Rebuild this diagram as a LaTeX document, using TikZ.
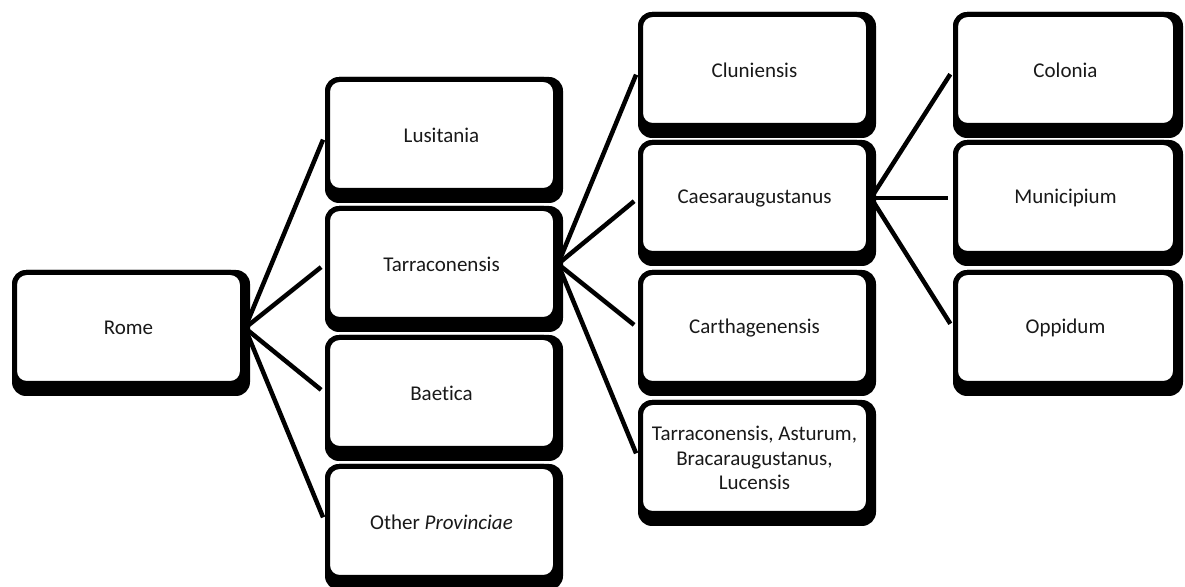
\documentclass[tikz,border=0pt]{standalone}
\usepackage{fontspec}
\setmainfont{Carlito}[Ligatures={NoCommon}]
\usetikzlibrary{backgrounds}
\begin{document}
\begin{tikzpicture}[x=0.5pt,y=-0.5pt,
  box/.style={draw=black, fill=white, line width=2.5pt, rounded corners=6pt,
    minimum width=114pt, minimum height=55.5pt, align=center, inner sep=2pt,
    font=\fontsize{10.5}{12.2}\selectfont, text=black!90},
  narrowbox/.style={box, minimum width=110pt},
  boxshadow/.style={fill=black, rounded corners=7pt},
  link/.style={line width=2.25pt, shorten >=2.5pt}]
\useasboundingbox (0,0) rectangle (1185,587);

% level 1
\node[box] (rome) at (128.5,328) {Rome};

% provinces
\node[box] (lus)   at (441.5,135) {Lusitania};
\node[box] (tarr)  at (441.5,264) {Tarraconensis};
\node[box] (baet)  at (441.5,393) {Baetica};
\node[box] (other) at (441.5,522) {Other \textit{Provinciae}};

% conventus of Tarraconensis
\node[box] (clun)  at (754.5,70)  {Cluniensis};
\node[box] (caes)  at (754.5,198) {Caesaraugustanus};
\node[box] (carth) at (754.5,328) {Carthagenensis};
\node[box] (rest)  at (754.5,458) {Tarraconensis, Asturum,\\Bracaraugustanus,\\Lucensis};

% town ranks
\node[narrowbox] (colonia) at (1065.5,70)  {Colonia};
\node[narrowbox] (munic)   at (1065.5,198) {Municipium};
\node[narrowbox] (oppid)   at (1065.5,328) {Oppidum};

\begin{scope}[on background layer]
  \foreach \c in {lus,tarr,baet,other} \draw[link] (rome.east) -- (\c.west);
  \foreach \c in {clun,caes,carth,rest} \draw[link] (tarr.east) -- (\c.west);
  \foreach \c in {colonia,munic,oppid} \draw[link] (caes.east) -- (\c.west);
  % shadows below and to the right of every box
  \foreach \c in {rome,lus,tarr,baet,other,clun,caes,carth,rest,colonia,munic,oppid}
    \fill[boxshadow] (\c.north west) rectangle ([xshift=2.5pt,yshift=-5pt]\c.south east);
\end{scope}
\end{tikzpicture}
\end{document}
